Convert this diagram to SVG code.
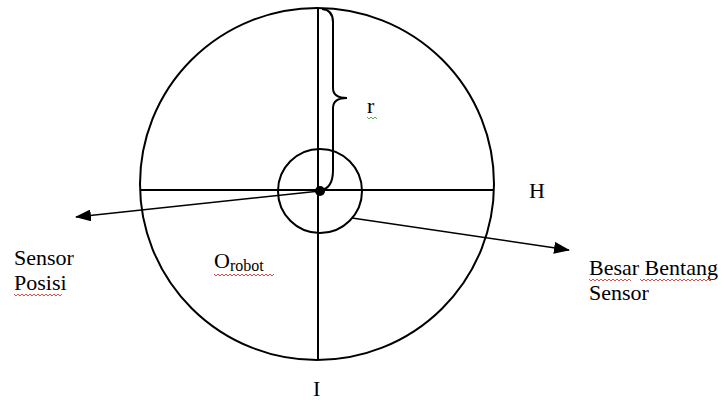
<svg xmlns="http://www.w3.org/2000/svg" width="722" height="400" viewBox="0 0 722 400">
<defs>
<style>
.ln{fill:none;stroke:#000;stroke-width:2}
.t{font-family:'Liberation Serif','DejaVu Serif',serif;font-size:22px;fill:#000}
.sq{fill:none;stroke:#d42020;stroke-width:0.8}
.sqg{fill:none;stroke:#2a9a2a;stroke-width:0.8}
</style>
<marker id="ah" viewBox="0 0 16 12" refX="15" refY="6" markerWidth="16" markerHeight="12" markerUnits="userSpaceOnUse" orient="auto"><path d="M0,0 L16,6 L0,12 z" fill="#000"/></marker>
</defs>
<g id="outer-circle"><ellipse class="ln" cx="317" cy="184" rx="177" ry="176"/></g>
<g id="axes">
<line class="ln" x1="318" y1="8" x2="318" y2="359"/>
<line class="ln" x1="140" y1="190" x2="494" y2="190"/>
</g>
<g id="inner-circle"><circle class="ln" cx="320" cy="191" r="42"/><circle cx="320" cy="191" r="5" fill="#000"/></g>
<g id="brace"><path class="ln" d="M322,9 Q333,10 333,22 L333,88 Q333,98 347,98 Q333,98 333,108 L333,170 Q333,189 320,190"/></g>
<g id="connectors">
<line class="ln" x1="320" y1="191" x2="76" y2="217" marker-end="url(#ah)" style="stroke-width:1.6"/>
<line class="ln" x1="352" y1="218" x2="569" y2="250" marker-end="url(#ah)" style="stroke-width:1.6"/>
</g>
<g id="labels" font-family="'Liberation Serif','DejaVu Serif',serif">
<text class="t" x="367" y="113">r</text>
<path class="sqg" d="M367,117 l2,2 l2,-2 l2,2 l2,-2 l2,2"/>
<text class="t" x="529" y="198">H</text>
<text class="t" x="313" y="396">I</text>
<text class="t" x="14" y="265">Sensor</text>
<text class="t" x="14" y="290">Posisi</text>
<path class="sq" d="M14,294 l2,2 l2,-2 l2,2 l2,-2 l2,2 l2,-2 l2,2 l2,-2 l2,2 l2,-2 l2,2 l2,-2 l2,2 l2,-2 l2,2 l2,-2 l2,2 l2,-2 l2,2 l2,-2 l2,2 l2,-2 l2,2 l2,-2"/>
<text class="t" x="214" y="268">O<tspan font-size="16" dy="3">robot</tspan></text>
<path class="sq" d="M214,274 l2,2 l2,-2 l2,2 l2,-2 l2,2 l2,-2 l2,2 l2,-2 l2,2 l2,-2 l2,2 l2,-2 l2,2 l2,-2 l2,2 l2,-2 l2,2 l2,-2 l2,2 l2,-2 l2,2 l2,-2 l2,2 l2,-2 l2,2 l2,-2 l2,2 l2,-2 l2,2 l2,-2"/>
<text class="t" x="589" y="275">Besar Bentang</text>
<path class="sq" d="M589,279 l2,2 l2,-2 l2,2 l2,-2 l2,2 l2,-2 l2,2 l2,-2 l2,2 l2,-2 l2,2 l2,-2 l2,2 l2,-2 l2,2 l2,-2 l2,2 l2,-2 l2,2 l2,-2 l2,2"/>
<path class="sq" d="M640,279 l2,2 l2,-2 l2,2 l2,-2 l2,2 l2,-2 l2,2 l2,-2 l2,2 l2,-2 l2,2 l2,-2 l2,2 l2,-2 l2,2 l2,-2 l2,2 l2,-2 l2,2 l2,-2 l2,2 l2,-2 l2,2 l2,-2 l2,2 l2,-2 l2,2 l2,-2 l2,2 l2,-2 l2,2 l2,-2 l2,2 l2,-2 l2,2 l2,-2"/>
<text class="t" x="589" y="300">Sensor</text>
</g>
</svg>
